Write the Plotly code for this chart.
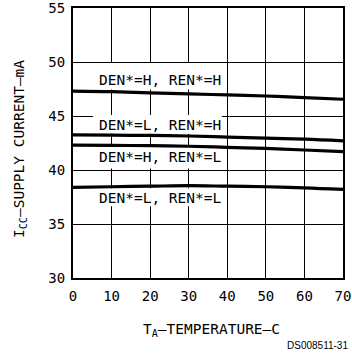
import plotly.graph_objects as go

# Ambient temperature (C)
temp_c = [0, 10, 20, 30, 40, 50, 60, 70]

# Supply current (mA) for each DEN*/REN* combination
icc_den_h_ren_h = [47.3, 47.25, 47.15, 47.05, 46.95, 46.85, 46.7, 46.55]
icc_den_l_ren_h = [43.25, 43.22, 43.2, 43.15, 43.05, 42.95, 42.85, 42.7]
icc_den_h_ren_l = [42.3, 42.28, 42.25, 42.2, 42.1, 42.0, 41.85, 41.7]
icc_den_l_ren_l = [38.4, 38.45, 38.5, 38.55, 38.5, 38.45, 38.35, 38.2]

series_labels = ["DEN*=H, REN*=H", "DEN*=L, REN*=H", "DEN*=H, REN*=L", "DEN*=L, REN*=L"]
series_values = [icc_den_h_ren_h, icc_den_l_ren_h, icc_den_h_ren_l, icc_den_l_ren_l]

x_ticks = [0, 10, 20, 30, 40, 50, 60, 70]
y_ticks = [30, 35, 40, 45, 50, 55]

# Label placement: text y-centre and the white box behind it (data units)
label_y = [48.3, 44.15, 41.25, 37.4]
label_box = [(47.45, 49.9), (43.35, 45.1), (40.15, 42.15), (36.65, 38.3)]
box_x = (5.2, 38.6)

FONT = "DejaVu Sans Mono"

fig = go.Figure()

# white panels behind the labels, drawn over the grid but under the curves
for b0, b1 in label_box:
    fig.add_trace(go.Scatter(
        x=[box_x[0], box_x[1], box_x[1], box_x[0], box_x[0]],
        y=[b0, b0, b1, b1, b0],
        mode="lines", fill="toself", fillcolor="white",
        line=dict(width=0, color="white"),
        showlegend=False, hoverinfo="skip",
    ))

for vals in series_values:
    fig.add_trace(go.Scatter(
        x=temp_c, y=vals, mode="lines",
        line=dict(color="black", width=3.2, shape="spline"),
        showlegend=False, hoverinfo="skip",
    ))

annotations = []
for text, ly in zip(series_labels, label_y):
    annotations.append(dict(
        x=6.1, y=ly, xref="x", yref="y", text=text, showarrow=False,
        xanchor="left", yanchor="middle",
        font=dict(family=FONT, size=14.5, color="black"),
    ))

W, H = 352, 358
ML, MR, MT, MB = 73, 9, 8, 80
pw, ph = W - ML - MR, H - MT - MB


def px_to_paper(px, py):
    return (px - ML) / pw, (H - MB - py) / ph


ax, ay = px_to_paper(20, 149)
annotations.append(dict(
    x=ax, y=ay, xref="paper", yref="paper", xanchor="center", yanchor="middle",
    text="I<sub>CC</sub>–SUPPLY CURRENT–mA", showarrow=False, textangle=-90,
    font=dict(family=FONT, size=14.5, color="black"),
))
tx, ty = px_to_paper(211, 330)
annotations.append(dict(
    x=tx, y=ty, xref="paper", yref="paper", xanchor="center", yanchor="middle",
    text="T<sub>A</sub>–TEMPERATURE–C", showarrow=False,
    font=dict(family=FONT, size=14.5, color="black"),
))
dx, dy = px_to_paper(350, 345)
annotations.append(dict(
    x=dx, y=dy, xref="paper", yref="paper", xanchor="right", yanchor="middle",
    text="DS008511-31", showarrow=False,
    font=dict(family="Liberation Sans", size=10, color="black"),
))

fig.update_layout(
    template="none",
    width=W, height=H,
    margin=dict(l=ML, r=MR, t=MT, b=MB, pad=0),
    paper_bgcolor="white", plot_bgcolor="white",
    annotations=annotations,
    xaxis=dict(
        range=[0, 70], tickmode="array", tickvals=x_ticks,
        ticktext=[str(v) for v in x_ticks],
        showgrid=True, gridcolor="black", gridwidth=1,
        showline=True, linecolor="black", linewidth=2, mirror=True,
        ticks="outside", ticklen=4, tickcolor="white", zeroline=False,
        ticklabeloverflow="allow",
        tickfont=dict(family=FONT, size=14, color="black"),
    ),
    yaxis=dict(
        range=[30, 55], tickmode="array", tickvals=y_ticks,
        ticktext=[str(v) for v in y_ticks],
        showgrid=True, gridcolor="black", gridwidth=1,
        showline=True, linecolor="black", linewidth=2, mirror=True,
        ticks="outside", ticklen=3, tickcolor="white", zeroline=False,
        ticklabeloverflow="allow",
        tickfont=dict(family=FONT, size=14, color="black"),
    ),
)

fig.write_html("out.html")
